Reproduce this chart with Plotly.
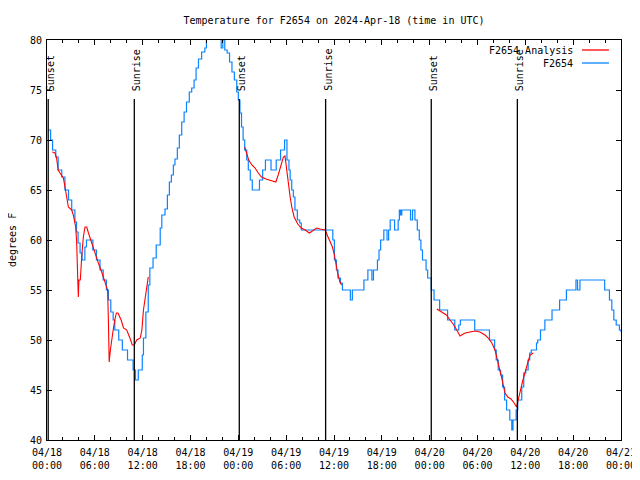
import plotly.graph_objects as go

# ---- data (hours since 2024-04-18 00:00 UTC) ----
blue_hours = [0.1, 0.45, 0.7, 1.1, 1.4, 1.85, 2.25, 2.7, 3.1, 3.5, 3.7, 3.9, 4.15, 4.4, 4.75, 4.95,
              5.75, 6.2, 6.65, 7.05, 7.45, 7.7, 8.0, 8.3, 8.5, 9.0, 9.45, 10.1, 10.8, 11.1, 11.45,
              11.95, 12.1, 12.4, 12.7, 12.9, 13.3, 13.7, 14.2, 14.4, 14.8, 15.1, 15.35, 15.6, 15.85,
              16.05, 16.35, 16.6, 16.9, 17.2, 17.5, 17.85, 18.15, 18.45, 18.7, 19.0, 19.4, 19.8,
              20.0, 20.5, 21.2, 21.7, 21.85, 22.05, 22.3, 22.6, 22.9, 23.2, 23.5, 23.8, 24.0, 24.2,
              24.4, 24.6, 24.8, 25.05, 25.25, 25.5, 25.75, 26.65, 27.05, 27.4, 28.1, 28.75, 29.3,
              29.8, 30.1, 30.35, 30.5, 30.7, 30.9, 31.1, 31.4, 31.7, 31.9, 35.85, 36.05, 36.3,
              36.5, 36.8, 37.05, 38.05, 38.3, 39.75, 40.25, 40.75, 40.95, 41.45, 41.65, 41.85,
              42.25, 42.65, 42.85, 43.05, 43.6, 44.05, 44.2, 44.35, 44.5, 45.6, 45.85, 46.15,
              46.45, 46.7, 46.9, 47.1, 47.55, 47.75, 48.2, 48.55, 49.25, 50.25, 51.15, 51.65,
              51.85, 53.65, 55.5, 56.15, 56.35, 56.6, 56.9, 57.15, 57.4, 57.65, 58.05, 58.3,
              58.45, 58.85, 59.05, 59.55, 59.8, 60.05, 60.35, 60.55, 60.75, 61.4, 61.55, 61.9,
              62.45, 63.35, 64.3, 65.15, 66.35, 66.55, 66.85, 69.95, 70.55, 70.85, 71.1, 71.4,
              71.8, 72.0]
blue_temps = [71, 70, 69, 68.3, 67, 66.3, 65, 64, 63, 61.8, 60.8, 59.7, 58.7, 58, 59.3, 60,
              59, 58, 57, 56, 55, 54, 52.8, 52, 51, 50, 49, 48, 47, 46, 47,
              48.5, 50.2, 52.8, 55.5, 57.2, 58.2, 59.5, 61.2, 62.5, 63.1, 64.5, 65.8, 66.5, 67.5,
              68.1, 69.2, 70.5, 71.8, 72.8, 73.8, 74.8, 75.2, 76, 77.2, 78.1, 78.8, 79.2,
              80.5, 81, 81, 80.5, 79.2, 80, 79, 78.7, 77.8, 76.8, 76, 74.8, 74, 72.7,
              71.3, 70, 69, 68, 67, 66, 65, 66, 67, 68, 67, 68, 69,
              70, 68, 67, 66, 65, 64.3, 63, 62, 61.7, 61, 60, 58, 57,
              56.2, 55.7, 55, 54, 55, 56, 57, 56, 57, 58, 59, 60,
              61, 60, 61, 62, 61, 62, 63, 62.5, 63, 62, 63, 62,
              61, 60, 59, 58, 57, 56.2, 55, 54, 53, 52, 51, 51.5,
              52, 51, 50, 49, 48, 47, 46.5, 45.3, 44, 43, 42, 41,
              42, 43, 44, 45.3, 46.7, 47, 48, 48.7, 49, 49.7, 50, 51,
              52, 53, 54, 55, 56, 55, 56, 55, 54, 53, 52, 51.5,
              51, 50.8]

red_hours_1 = [0.67, 1.0, 1.2, 1.4, 1.63, 2.05, 2.26, 2.47, 2.68, 3.1, 3.3, 3.6, 3.72, 3.85, 3.93,
               4.0, 4.18, 4.35, 4.56, 4.77, 4.98, 5.2, 5.6, 6.0, 6.44, 6.86, 7.3, 7.6, 7.7, 7.8,
               7.95, 8.1, 8.3, 8.5, 8.7, 8.9, 9.3, 9.6, 10.0, 10.4, 10.7, 10.95, 11.25, 11.7,
               11.9, 12.1, 12.3, 12.5, 12.7]
red_temps_1 = [68.8, 68.7, 68.2, 67, 66.7, 66.2, 65.3, 64.3, 63.3, 63, 62.5, 61.3, 59.8, 56.3, 54.3,
               56, 56, 58.3, 60.3, 61.3, 61.3, 60.7, 59.7, 58.7, 57.7, 56.8, 55.8, 55, 52, 47.8,
               49, 49.7, 51, 52, 52.7, 52.7, 52, 51.2, 51, 50.2, 49.5, 49.5, 50, 50.2,
               51, 53, 54.2, 55.2, 56.3]
red_hours_2 = [24.8, 25.05, 25.3, 25.7, 26.1, 26.5, 26.9, 27.55, 28.2, 28.7, 29.0, 29.35, 29.65,
               29.85, 30.07, 30.27, 30.5, 30.7, 31.0, 31.45, 31.9, 32.4, 32.9, 33.3, 33.8, 34.25,
               34.9, 35.2, 35.5, 35.8, 36.05, 36.3, 36.5, 36.75, 36.95]
red_temps_2 = [69.3, 68.7, 68, 67.5, 67.2, 66.7, 66.3, 66.07, 65.9, 65.8, 66.5, 67.5, 68.3,
               68.4, 67, 65.3, 64.3, 63.3, 62.3, 61.6, 61.2, 61, 60.7, 60.9, 61.2, 61.1,
               61, 60.4, 59.9, 59.3, 58.5, 57.3, 56.5, 55.8, 55.5]
red_hours_3 = [48.9, 49.5, 50.1, 50.55, 50.95, 51.4, 51.6, 51.8, 52.0, 52.45, 53.05, 53.7, 54.3,
               54.95, 55.35, 55.8, 56.2, 56.4, 56.7, 56.95, 57.2, 57.45, 57.8, 58.2, 58.6, 58.9,
               59.1, 59.3, 59.5, 59.7, 59.95, 60.2, 60.4, 60.6, 61.0]
red_temps_3 = [53.1, 52.8, 52.5, 52, 51.6, 51, 50.7, 50.4, 50.5, 50.7, 50.8, 50.9, 50.8,
               50.5, 50.2, 49.7, 49, 48.2, 47.3, 46.5, 45.7, 44.7, 44.3, 44.1, 43.7, 43.3,
               44, 44.7, 45.5, 46, 46.7, 47.3, 48, 48.5, 48.7]

sun_hours = [0.15, 10.95, 24.12, 34.95, 48.2, 59.0]
sun_labels = ["Sunset", "Sunrise", "Sunset", "Sunrise", "Sunset", "Sunrise"]

tick_hours = [0, 6, 12, 18, 24, 30, 36, 42, 48, 54, 60, 66, 72]
tick_labels = ["04/18<br>00:00", "04/18<br>06:00", "04/18<br>12:00", "04/18<br>18:00",
               "04/19<br>00:00", "04/19<br>06:00", "04/19<br>12:00", "04/19<br>18:00",
               "04/20<br>00:00", "04/20<br>06:00", "04/20<br>12:00", "04/20<br>18:00",
               "04/21<br>00:00"]
y_ticks = [40, 45, 50, 55, 60, 65, 70, 75, 80]

FONT = "DejaVu Sans Mono"
BLUE = "#0a84ff"
RED = "#ff0000"

red_hours = red_hours_1 + [None] + red_hours_2 + [None] + red_hours_3
red_temps = red_temps_1 + [None] + red_temps_2 + [None] + red_temps_3

fig = go.Figure()
fig.add_trace(go.Scatter(x=blue_hours, y=blue_temps, mode="lines", line_shape="hv",
                         line=dict(color=BLUE, width=1.2), name="F2654", showlegend=False))
fig.add_trace(go.Scatter(x=red_hours, y=red_temps, mode="lines", connectgaps=False,
                         line=dict(color=RED, width=1.1), name="F2654 Analysis", showlegend=False))

for h, lab in zip(sun_hours, sun_labels):
    fig.add_shape(type="line", x0=h, x1=h, y0=40, y1=74.1, xref="x", yref="y",
                  line=dict(color="black", width=1.3))
    fig.add_annotation(x=h, y=74.7, xref="x", yref="y", text=lab, textangle=-90,
                       showarrow=False, xanchor="center", yanchor="bottom", xshift=2,
                       font=dict(family=FONT, size=10, color="black"))

# manual gnuplot-style legend
for txt, col, yp in [("F2654 Analysis", RED, 0.975), ("F2654", BLUE, 0.9425)]:
    fig.add_annotation(x=0.919, y=yp, xref="paper", yref="paper", text=txt, showarrow=False,
                       xanchor="right", yanchor="middle",
                       font=dict(family=FONT, size=10, color="black"))
    fig.add_shape(type="line", x0=0.932, x1=0.979, y0=yp, y1=yp, xref="paper", yref="paper",
                  line=dict(color=col, width=1.3))

# y-axis title as annotation
fig.add_annotation(x=-35 / 574, y=0.5, xref="paper", yref="paper", text="degrees F",
                   textangle=-90, showarrow=False, xanchor="center", yanchor="middle",
                   font=dict(family=FONT, size=10, color="black"))

# page body has an 8px margin, so the figure is 632x472 with offsets compensated
fig.update_layout(
    width=632, height=472,
    margin=dict(l=39, r=19, t=32, b=40, autoexpand=False),
    paper_bgcolor="white", plot_bgcolor="white",
    font=dict(family=FONT, size=10, color="black"),
    title=dict(text="Temperature for F2654 on 2024-Apr-18 (time in UTC)", x=0.5, xref="paper",
               y=1 - 12 / 472, yanchor="middle", font=dict(family=FONT, size=10, color="black")),
    showlegend=False,
)
fig.update_xaxes(range=[0, 72], tickmode="array", tickvals=tick_hours, ticktext=tick_labels,
                 ticks="inside", ticklen=5, tickcolor="black", showline=True, linecolor="black",
                 linewidth=1, mirror="ticks", showgrid=False, zeroline=False, automargin=False,
                 ticklabelstandoff=3,
                 minor=dict(ticks="inside", ticklen=3, dtick=2, tickcolor="black", showgrid=False),
                 tickfont=dict(family=FONT, size=10, color="black"))
fig.update_yaxes(range=[40, 80], tickmode="array", tickvals=y_ticks,
                 ticks="inside", ticklen=5, tickcolor="black", showline=True, linecolor="black",
                 linewidth=1, mirror="ticks", showgrid=False, zeroline=False, automargin=False,
                 ticklabelstandoff=2,
                 tickfont=dict(family=FONT, size=10, color="black"))

fig.write_html("out.html")
